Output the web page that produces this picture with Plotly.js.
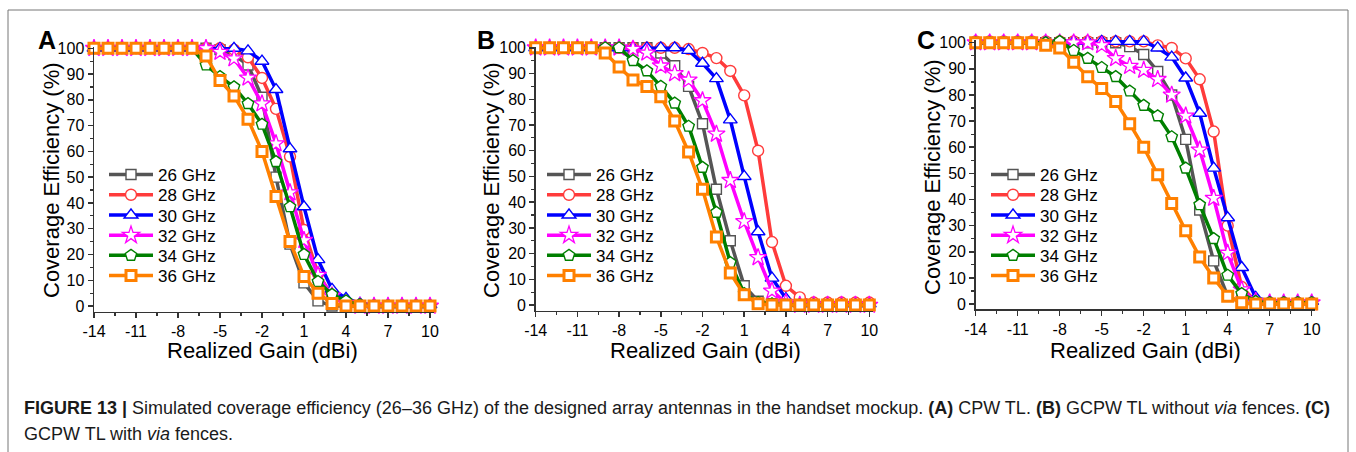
<!DOCTYPE html>
<html><head><meta charset="utf-8">
<script src="https://cdn.plot.ly/plotly-3.0.1.min.js"></script>
<style>html,body{margin:0;padding:0;background:#fff;} #chart{width:1356px;height:452px;}</style>
</head><body><div id="chart"></div>
<script>
// Realized gain (dBi)
const gain = [-14,-13,-12,-11,-10,-9,-8,-7,-6,-5,-4,-3,-2,-1,0,1,2,3,4,5,6,7,8,9,10];
const seriesNames = ['26 GHz','28 GHz','30 GHz','32 GHz','34 GHz','36 GHz'];
const xTickVals = [-14,-11,-8,-5,-2,1,4,7,10];
const xTickText = ['-14','-11','-8','-5','-2','1','4','7','10'];
const yTickVals = [0,10,20,30,40,50,60,70,80,90,100];
const panelLabels = ['A','B','C'];

// Panel A: CPW TL
const a26 = [100,100,100,100,100,100,100,100,100,99.5,97.5,93.5,81,50,24,9,2,0,0,0,0,0,0,0,0];
const a28 = [100,100,100,100,100,100,100,100,100,100,99.5,96.5,88.5,76.5,58,29.5,12.5,4,1,0.3,0,0,0,0,0];
const a30 = [100,100,100,100,100,100,100,100,100,100,100,99,95,84,61,38.5,18,6.5,3,1,0.5,0.5,0.5,0.5,0.5];
const a32 = [100,100,100,100,100,100,100,100,100,98.5,96,88.5,78.5,63,44,25.5,12,4,1,0,0,0,0,0,0];
const a34 = [100,100,100,100,100,100,100,100,93.5,89,85,78.5,70.5,56,38.5,20,9.5,4.5,2,0.5,0,0,0,0,0];
const a36 = [100,100,100,100,100,100,100,100,97,87.5,81.5,72.5,60,42.5,25,11.5,5,1,0,0,0,0,0,0,0];

// Panel B: GCPW TL without via fences
const b26 = [100,100,100,100,100,100,100,100,100,98,93,85,70.5,45,25,7.5,1.5,0.5,0,0,0,0,0,0,0];
const b28 = [100,100,100,100,100,100,100,100,100,100,100,99.5,98,96,91,81.5,60,24.5,7.5,3,1,1,1,1,1];
const b30 = [100,100,100,100,100,100,100,100,100,100,100,99,94,88,72,50,28.5,10.5,2.5,0.5,0.5,0.5,0.5,0.5,0.5];
const b32 = [100,100,100,100,100,100,100,99.5,98,93,90,87.5,79.5,66.5,48.5,32.5,18.5,5.5,1,0,0,0,0,0,0];
const b34 = [100,100,100,100,100,100,100,95,91,85,78.5,69.5,53.5,36,16.5,4.5,1,0.5,0,0,0,0,0,0,0];
const b36 = [100,100,100,100,100,98,92.5,87.5,85,81,71.5,59.5,45,26.5,12.5,4,0.5,0,0,0,0,0,0,0,0];

// Panel C: GCPW TL with via fences
const c26 = [100,100,100,100,100,100,100,100,100,100,100,98.5,95.5,89,80,63,36,16.5,3,0.5,0,0,0,0,0];
const c28 = [100.5,100.5,100.5,100.5,100.5,100.5,100.5,100.5,100.5,100.5,100.5,100.5,100.5,99,98,94,86,66,30,6.5,1,0.5,0.5,0.5,0.5];
const c30 = [100.5,100.5,100.5,100.5,100.5,100.5,100.5,100.5,100.5,100.5,100.5,100.5,100.5,98,94.5,86.5,73,52,33,14,2.5,1,1,1,1];
const c32 = [100,100,100,100,100,100,100,100,100,99,94,91,89.5,86,80,72,59,40.5,19.5,5.5,1,0.5,0.5,0.5,0.5];
const c34 = [100,100,100,100,100,100,100.5,97,94,90.5,87,81.5,76,72,64,52,38,25,11,4,1,0.5,0.5,0.5,0.5];
const c36 = [100,100,100,100,100,99,98,92.5,87,82.5,77.5,69,60,49.5,38.5,28,18,10,3,0.5,0,0,0,0,0];

const colors = ['#555555','#ff3b3b','#0000ff','#ff00ff','#007f00','#ff8000'];
const symbols = ['square','circle','triangle-up','star','pentagon','square'];
const msize = [10,11,12,13,12,10];
const mlw = [1.4,1.4,1.4,1.3,1.4,3];
const FONT = '"Liberation Sans", Arial, sans-serif';

const panels = [[a26,a28,a30,a32,a34,a36],[b26,b28,b30,b32,b34,b36],[c26,c28,c30,c32,c34,c36]];
const traces = [];
panels.forEach((ser, p) => {
  const sfx = p === 0 ? '' : String(p+1);
  ser.forEach((ys, i) => {
    traces.push({
      type:'scatter', mode:'lines+markers', x: gain, y: ys, name: seriesNames[i],
      xaxis:'x'+sfx, yaxis:'y'+sfx, legend:'legend'+sfx, cliponaxis:false,
      line:{color:colors[i], width:3.5},
      marker:{symbol:symbols[i], size:msize[i], color:'#ffffff', line:{color:colors[i], width:mlw[i]}}
    });
  });
});

const W = 1356, H = 452;
const px = v => v / W, py = v => (H - v) / H;

function xax(l, r) {
  return {domain:[px(l), px(r)], range:[-14, 10.25], showline:true, linecolor:'#333', linewidth:1.5,
    ticks:'outside', ticklen:5, tickwidth:1.5, tickcolor:'#333', tickmode:'array', tickvals:xTickVals, ticktext:xTickText,
    minor:{tick0:-12.5, dtick:3, ticks:'outside', ticklen:3, tickwidth:1.2, tickcolor:'#333'},
    showgrid:false, zeroline:false, tickfont:{family:FONT, size:16, color:'#000'}, fixedrange:true};
}
function yax(b, t, r0, r1, anchor) {
  return {domain:[py(b), py(t)], range:[r0, r1], anchor:anchor, showline:true, linecolor:'#333', linewidth:1.5,
    ticks:'outside', ticklen:5, tickwidth:1.5, tickcolor:'#333', tickmode:'array', tickvals:yTickVals,
    minor:{tick0:5, dtick:10, ticks:'outside', ticklen:3, tickwidth:1.2, tickcolor:'#333'},
    showgrid:false, zeroline:false, tickfont:{family:FONT, size:16, color:'#000'}, fixedrange:true};
}
function leg(xl, yt) {
  return {x:px(xl), y:py(yt), xanchor:'left', yanchor:'top', bgcolor:'rgba(0,0,0,0)', borderwidth:0,
    font:{family:FONT, size:17, color:'#000'}, itemwidth:44, tracegroupgap:0};
}

const annotations = [];
const ann = (text, x, y, opts) => Object.assign({text:text, x:px(x), y:py(y), xref:'paper', yref:'paper', showarrow:false,
  xanchor:'center', yanchor:'middle', font:{family:FONT, size:22, color:'#000'}}, opts || {});
annotations.push(ann('Coverage Efficiency (%)', 52, 180, {textangle:-90}));
annotations.push(ann('Coverage Efficiency (%)', 492, 180, {textangle:-90}));
annotations.push(ann('Coverage Efficiency (%)', 932, 177, {textangle:-90}));
annotations.push(ann('Realized Gain (dBi)', 262, 350));
annotations.push(ann('Realized Gain (dBi)', 705, 350));
annotations.push(ann('Realized Gain (dBi)', 1145, 350));
annotations.push(ann('<b>'+panelLabels[0]+'</b>', 47, 40, {font:{family:FONT, size:25, color:'#000'}}));
annotations.push(ann('<b>'+panelLabels[1]+'</b>', 486, 40, {font:{family:FONT, size:25, color:'#000'}}));
annotations.push(ann('<b>'+panelLabels[2]+'</b>', 926, 40, {font:{family:FONT, size:25, color:'#000'}}));
annotations.push(ann('<b>FIGURE 13 |</b> Simulated coverage efficiency (26–36 GHz) of the designed array antennas in the handset mockup. <b>(A)</b> CPW TL. <b>(B)</b> GCPW TL without <i>via</i> fences. <b>(C)</b>',
  22, 408, {xanchor:'left', align:'left', font:{family:FONT, size:18, color:'#1a1a1a'}}));
annotations.push(ann('GCPW TL with <i>via</i> fences.', 22, 434, {xanchor:'left', align:'left', font:{family:FONT, size:18, color:'#1a1a1a'}}));

const layout = {
  width:W, height:H, margin:{l:0,r:0,t:0,b:0}, paper_bgcolor:'#fff', plot_bgcolor:'rgba(0,0,0,0)',
  font:{family:FONT, color:'#000'},
  xaxis: Object.assign(xax(94, 94+24.25*14), {anchor:'y'}),
  yaxis: yax(311.7, 47, -2.2, 100.5, 'x'),
  xaxis2: Object.assign(xax(535.7, 535.7+24.25*13.9), {anchor:'y2'}),
  yaxis2: yax(310.5, 46.5, -2.1, 100.5, 'x2'),
  xaxis3: Object.assign(xax(975.7, 975.7+24.25*14), {anchor:'y3'}),
  yaxis3: yax(309, 40.1, -1.9, 101, 'x3'),
  legend: leg(104, 157), legend2: leg(542, 157), legend3: leg(986, 157),
  annotations: annotations,
  shapes:[{type:'rect', xref:'paper', yref:'paper', x0:px(8), x1:px(1348), y0:-0.05, y1:py(10), line:{color:'#777', width:1}}]
};

const ROW_STEP = 20.2;
Plotly.newPlot('chart', traces, layout, {staticPlot:true, displayModeBar:false}).then(gd => {
  ['legend','legend2','legend3'].forEach(id => {
    const items = gd.querySelectorAll('g.' + id + ' g.traces');
    let y0 = null;
    items.forEach((el, i) => {
      const t = el.getAttribute('transform') || '';
      const m = /translate\(\s*([-\d.e]+)[\s,]+([-\d.e]+)\s*\)/.exec(t);
      if (!m) return;
      const x = parseFloat(m[1]), y = parseFloat(m[2]);
      if (y0 === null) y0 = y;
      el.setAttribute('transform', 'translate(' + x + ',' + (y0 + i * ROW_STEP) + ')');
    });
  });
});
</script></body></html>
